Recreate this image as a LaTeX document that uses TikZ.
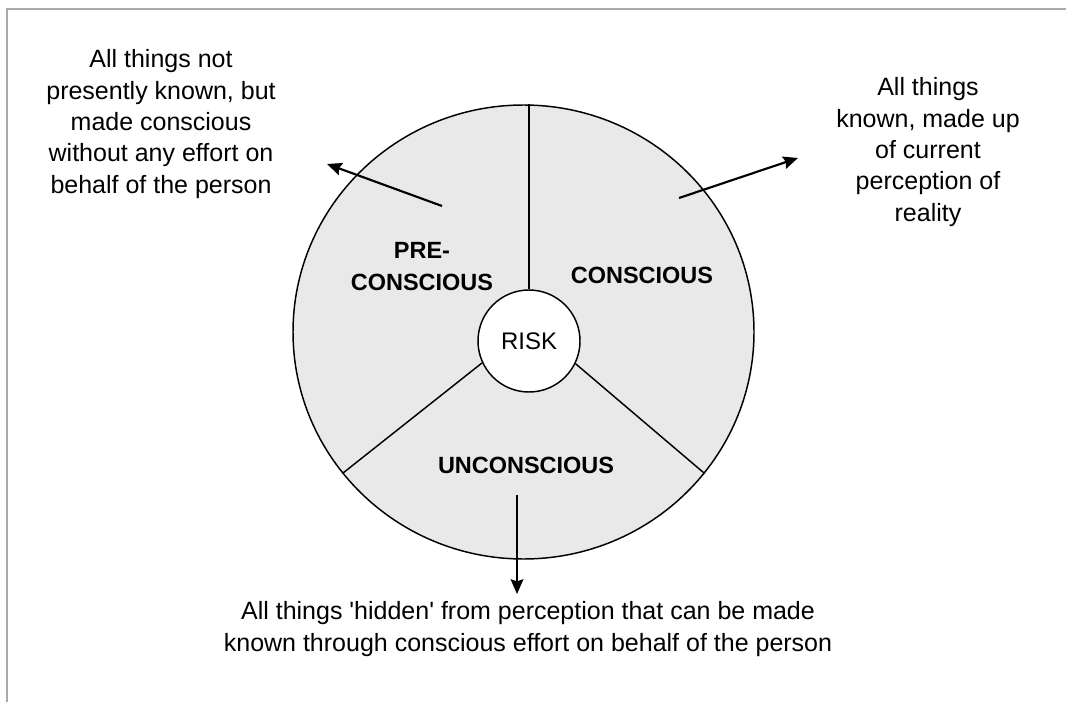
\documentclass[tikz,border=0pt]{standalone}
\usepackage{fontspec}
\setmainfont{Liberation Sans}
\newfontfamily\notefont{Liberation Sans}
\usepackage{tikz}
\usetikzlibrary{arrows.meta,shapes.geometric}
\definecolor{wheelgray}{RGB}{233,233,233}
\definecolor{framegray}{RGB}{170,170,170}

\begin{document}
\begin{tikzpicture}[x=0.75pt,y=-0.75pt,
		note/.style={align=center, inner sep=0pt, font=\notefont\fontsize{18.75pt}{23.5pt}\selectfont},
		part/.style={align=center, inner sep=0pt, font=\fontsize{17.6pt}{24pt}\selectfont\bfseries},
		pointer/.style={-{Stealth[length=11pt,width=9.5pt,inset=1.5pt]}, line width=1.6pt}]
				\useasboundingbox (0,0) rectangle (1066,702);
				\draw[framegray, line width=1.5pt] (7,702) -- (7,9) -- (1066,9);
				
				\node (wheel) [draw, ellipse, fill=wheelgray, line width=1.1pt, inner sep=0pt, minimum width=345.75pt, minimum height=340.5pt] at (523.5,332) {};
				\node (risk) [draw, circle, fill=white, line width=1.1pt, inner sep=0pt, minimum size=76.5pt, font=\fontsize{18pt}{20pt}\selectfont] at (529,341) {RISK};
				
				% Dividers
				\draw[line width=1.1pt] (risk.north) -- (risk.north |- wheel.north);
				\draw[line width=1.1pt] (risk.205) -- (wheel.218);
				\draw[line width=1.1pt] (risk.334) -- (wheel.322);
				
				\node (pre) [part] at (422,267) {PRE-\\CONSCIOUS};
				\node (con) [part] at (642,275) {CONSCIOUS};
				\node (uncon) [part] at (526,465) {UNCONSCIOUS};
				
				\node (txtpre) [note] at (161,124) {All things not\\presently known, but\\made conscious\\without any effort on\\behalf of the person};
				\node (txtcon) [note] at (928,152) {All things\\known, made up\\of current\\perception of\\reality};
				\node (txtuncon) [note] at (528,629) {All things 'hidden' from perception that can be made\\known through conscious effort on behalf of the person};
				
				% Arrows
				\coordinate (preFoot) at (442,206);
				\coordinate (preHead) at (327,164);
				\coordinate (conFoot) at (679,198);
				\coordinate (conHead) at (798,158);
				\coordinate (uncFoot) at (517,495);
				\coordinate (uncHead) at (517,594);
				\draw[pointer] (preFoot) -- (preHead);
				\draw[pointer] (conFoot) -- (conHead);
				\draw[pointer] (uncFoot) -- (uncHead);
		\end{tikzpicture}
\end{document}
